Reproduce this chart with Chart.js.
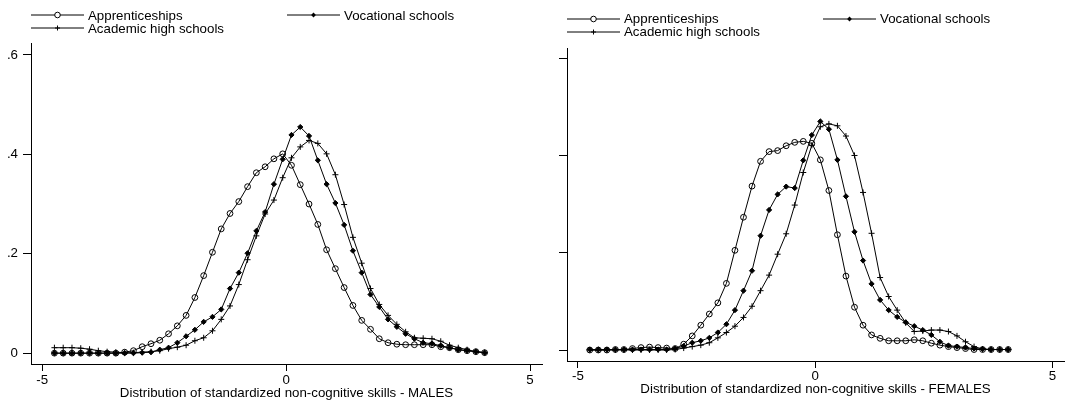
<!doctype html>
<html><head><meta charset="utf-8">
<title>Non-cognitive skills by school track</title>
<script src="https://cdn.jsdelivr.net/npm/chart.js"></script>
<style>
  body { margin: 0; background: #fff; }
  #wrap { position: relative; width: 1069px; height: 401px; overflow: hidden; font-family: "Liberation Sans", Arial, sans-serif; }
  #wrap canvas { position: absolute; left: 0; top: 0; }
  .sym { position: absolute; line-height: 0; }
  .sym svg { display: block; }
  .lab { position: absolute; font-size: 13.3px; line-height: 14px; color: #000; white-space: nowrap; }
</style>
</head><body>
<div id="wrap">
  <canvas id="males" width="1069" height="401"></canvas>
  <canvas id="females" width="1069" height="401"></canvas>
</div>
<script>
// evaluation grid of the kernel density (standardized skill)
const xGrid = [-4.75,-4.57,-4.39,-4.21,-4.03,-3.85,-3.67,-3.49,-3.31,-3.13,
  -2.95,-2.77,-2.59,-2.41,-2.23,-2.05,-1.87,-1.69,-1.51,-1.33,
  -1.15,-0.97,-0.79,-0.61,-0.43,-0.25,-0.07,0.11,0.29,0.47,
  0.65,0.83,1.01,1.19,1.37,1.55,1.73,1.91,2.09,2.27,
  2.45,2.63,2.81,2.99,3.17,3.35,3.53,3.71,3.89,4.07];

const seriesNames = ['Apprenticeships', 'Vocational schools', 'Academic high schools'];

// males
const maleAppr = [0,0,0,0,0,0,0,0,0.002,0.005,
  0.013,0.019,0.026,0.039,0.055,0.076,0.112,0.156,0.203,0.250,
  0.281,0.305,0.335,0.363,0.375,0.391,0.401,0.378,0.339,0.300,
  0.259,0.208,0.170,0.132,0.096,0.066,0.048,0.029,0.021,0.018,
  0.017,0.017,0.017,0.017,0.013,0.011,0.007,0.005,0.003,0.001];
const maleVoc = [0,0,0,0,0,0,0,0,0,0,
  0.001,0.002,0.007,0.011,0.021,0.034,0.047,0.063,0.073,0.088,
  0.130,0.162,0.201,0.246,0.284,0.340,0.390,0.439,0.455,0.437,
  0.388,0.340,0.302,0.258,0.206,0.162,0.118,0.093,0.068,0.053,
  0.039,0.029,0.021,0.019,0.015,0.011,0.007,0.005,0.003,0.001];
const maleAcad = [0.011,0.011,0.011,0.010,0.008,0.005,0.003,0.002,0.001,0.001,
  0.002,0.003,0.005,0.009,0.012,0.016,0.025,0.031,0.045,0.068,
  0.095,0.138,0.188,0.236,0.280,0.308,0.353,0.393,0.415,0.428,
  0.422,0.401,0.359,0.299,0.233,0.181,0.130,0.098,0.076,0.058,
  0.043,0.031,0.030,0.029,0.024,0.016,0.011,0.007,0.003,0.001];

// females
const femAppr = [0,0,0,0.001,0.001,0.003,0.005,0.006,0.005,0.004,
  0.003,0.012,0.029,0.051,0.074,0.097,0.137,0.205,0.273,0.337,
  0.388,0.408,0.410,0.420,0.427,0.429,0.425,0.391,0.328,0.237,
  0.152,0.088,0.051,0.031,0.024,0.019,0.019,0.019,0.021,0.019,
  0.014,0.010,0.007,0.005,0.003,0.001,0.001,0.001,0.001,0.001];
const femVoc = [0.001,0.001,0.001,0.001,0.001,0.001,0.001,0.001,0.001,0.001,
  0.003,0.008,0.015,0.019,0.025,0.036,0.053,0.082,0.122,0.163,
  0.235,0.288,0.320,0.336,0.333,0.390,0.442,0.470,0.454,0.391,
  0.316,0.243,0.184,0.136,0.103,0.082,0.068,0.057,0.049,0.041,
  0.031,0.017,0.009,0.007,0.005,0.003,0.002,0.001,0.001,0.001];
const femAcad = [0,0,0,0,0,0,0,0,0,0,
  0.001,0.004,0.007,0.010,0.015,0.025,0.036,0.049,0.067,0.090,
  0.122,0.154,0.197,0.239,0.298,0.365,0.421,0.459,0.465,0.461,
  0.440,0.400,0.324,0.240,0.149,0.110,0.082,0.056,0.038,0.039,
  0.041,0.041,0.038,0.029,0.017,0.007,0.002,0.001,0.001,0.001];

const xTicks = [-5, 0, 5];
const xTickLabels = ['-5', '0', '5'];
const yTicks = [0, 0.2, 0.4, 0.6];
const yTickLabels = ['0', '.2', '.4', '.6'];

const FONT = 'Liberation Sans';
Chart.defaults.font.family = FONT;
Chart.defaults.font.size = 13.3;
Chart.defaults.color = '#000';

const markers = [
  { pointStyle: 'circle', pointRadius: 2.9, pointBackgroundColor: 'rgba(0,0,0,0)' },
  { pointStyle: 'rectRot', pointRadius: 2.6, pointBackgroundColor: '#000' },
  { pointStyle: 'cross', pointRadius: 3, pointBackgroundColor: '#000' }
];

function makeDatasets(list) {
  return list.map((vals, k) => Object.assign({
    label: seriesNames[k],
    data: vals.map((v, i) => ({ x: xGrid[i], y: v })),
    borderColor: '#000',
    borderWidth: 1,
    pointBorderColor: '#000',
    pointBorderWidth: 1,
    tension: 0,
    fill: false
  }, markers[k]));
}

function panel(id, vals, o) {
  new Chart(document.getElementById(id), {
    type: 'line',
    data: { datasets: makeDatasets(vals) },
    options: {
      responsive: false,
      animation: false,
      events: [],
      layout: { padding: o.pad },
      plugins: { legend: { display: false }, tooltip: { enabled: false } },
      scales: {
        x: {
          type: 'linear', min: -5.23, max: 5.246,
          afterBuildTicks: s => { s.ticks = xTicks.map(v => ({ value: v })); },
          afterFit: s => { s.height = o.xh; },
          ticks: { padding: o.xpad, maxRotation: 0, autoSkip: false,
            callback: (v) => xTickLabels[xTicks.indexOf(v)] },
          grid: { drawOnChartArea: false, drawTicks: true, tickLength: 7, color: '#000', lineWidth: 1 },
          border: { display: true, color: '#000', width: 1 },
          title: { display: true, text: o.title, padding: { top: 0, bottom: o.tpad }, font: { size: 13.3 } }
        },
        y: {
          type: 'linear', min: o.ymin, max: o.ymax,
          afterBuildTicks: s => { s.ticks = yTicks.map(v => ({ value: v })); },
          afterFit: s => { s.width = 31; },
          ticks: { padding: 5, color: o.ylabels ? '#000' : 'rgba(0,0,0,0)',
            callback: (v) => yTickLabels[yTicks.indexOf(v)] },
          grid: { drawOnChartArea: false, drawTicks: true, tickLength: 8, color: '#000', lineWidth: 1 },
          border: { display: true, color: '#000', width: 1 }
        }
      }
    }
  });
}

panel('males', [maleAppr, maleVoc, maleAcad], {
  pad: { left: 0, top: 43, right: 527, bottom: 0 }, xh: 37, xpad: 1, tpad: 0,
  ymin: -0.0218, ymax: 0.624, ylabels: true,
  title: 'Distribution of standardized non-cognitive skills - MALES'
});
panel('females', [femAppr, femVoc, femAcad], {
  pad: { left: 536, top: 48, right: 0, bottom: 0 }, xh: 40, xpad: 0, tpad: 4,
  ymin: -0.0226, ymax: 0.621, ylabels: false,
  title: 'Distribution of standardized non-cognitive skills - FEMALES'
});

// legends (one per panel): symbol line with marker, then the label
const legendSpots = [
  { dx: 0, dy: 0 }, { dx: 536, dy: 3.4 }
];
const legendItems = [
  { k: 0, x: 31, y: 15.3 },
  { k: 1, x: 287, y: 15.3 },
  { k: 2, x: 31, y: 28.3 }
];
function symbolSvg(k) {
  const w = 53, h = 10, cx = 26.5, cy = 5;
  let m = '';
  if (k === 0) m = `<circle cx="${cx}" cy="${cy}" r="2.8" fill="#fff" stroke="#000" stroke-width="1"/>`;
  if (k === 1) m = `<path d="M${cx} ${cy - 2.4}L${cx + 2.4} ${cy}L${cx} ${cy + 2.4}L${cx - 2.4} ${cy}Z" fill="#000"/>`;
  if (k === 2) m = `<path d="M${cx - 2.5} ${cy}H${cx + 2.5}M${cx} ${cy - 2.5}V${cy + 2.5}" stroke="#000" stroke-width="1"/>`;
  return `<svg width="${w}" height="${h}"><line x1="0" y1="${cy}" x2="${w}" y2="${cy}" stroke="#000" stroke-width="1"/>${m}</svg>`;
}
const wrap = document.getElementById('wrap');
legendSpots.forEach(sp => {
  legendItems.forEach(it => {
    const s = document.createElement('div');
    s.className = 'sym';
    s.style.left = (it.x + sp.dx) + 'px';
    s.style.top = (it.y + sp.dy - 5) + 'px';
    s.innerHTML = symbolSvg(it.k);
    wrap.appendChild(s);
    const t = document.createElement('div');
    t.className = 'lab';
    t.style.left = (it.x + sp.dx + 57) + 'px';
    t.style.top = (it.y + sp.dy - 6.5) + 'px';
    t.textContent = seriesNames[it.k];
    wrap.appendChild(t);
  });
});
</script>
</body></html>
